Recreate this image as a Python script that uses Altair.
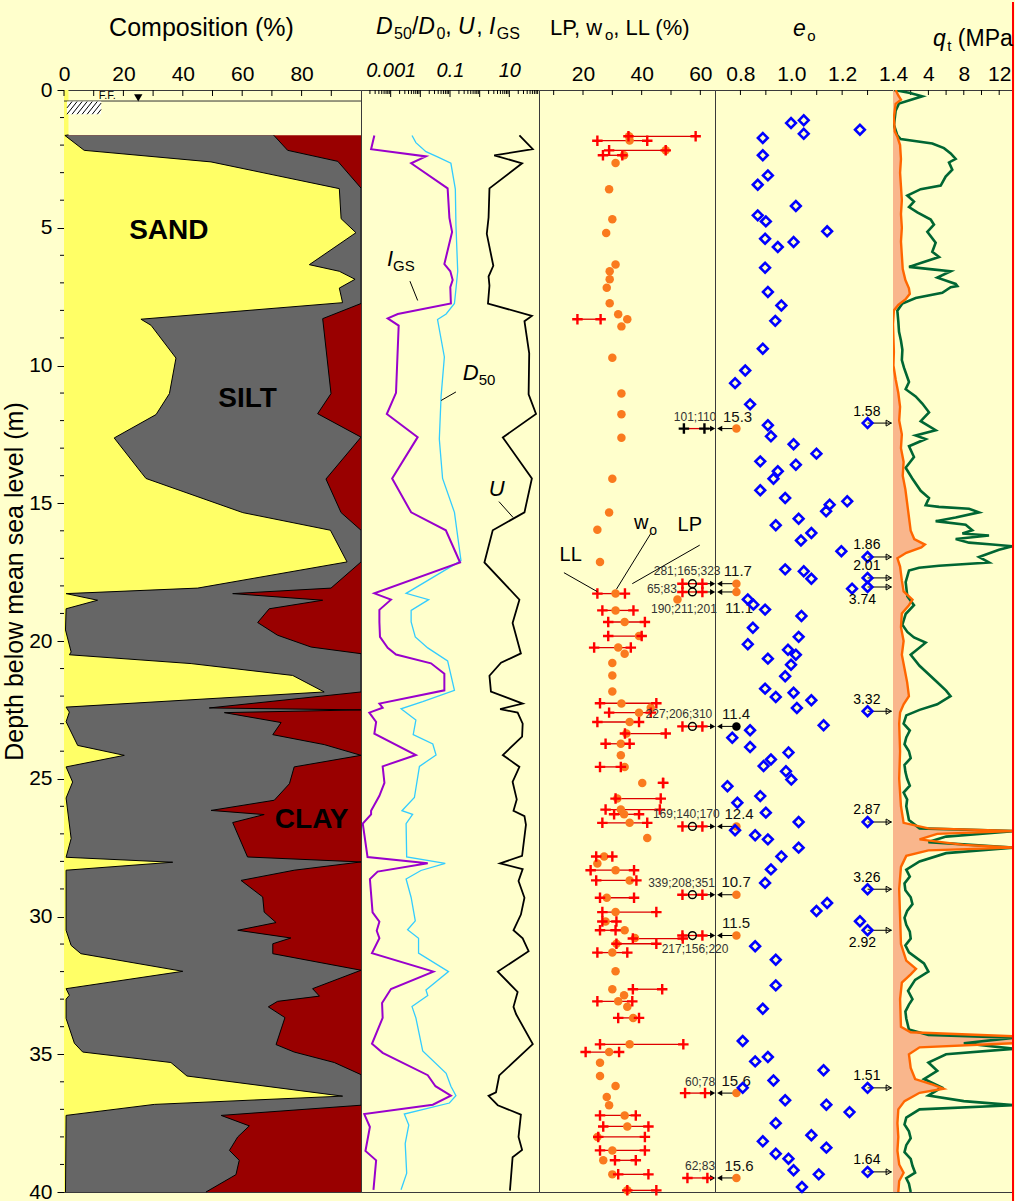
import altair as alt
import numpy as np
import pandas as pd

FONT = "Liberation Sans"
BG = "#FFFFCC"
H = 1102
W1, W2, W3, W4, W5 = 297, 178, 176, 178, 120

SAND_COL, SILT_COL, CLAY_COL = "#FFFF66", "#666666", "#990000"
ORANGE = "#FA7A1E"

# ---------------- Composition (%) ----------------
SAND_DEPTH = [0.0, 1.63, 1.65, 2.19, 2.61, 3.58, 4.67, 5.18, 6.34, 6.58, 6.87, 7.19, 7.72, 8.32, 8.54,
              9.73, 11.02, 11.78, 12.63, 13.87, 14.10, 15.34, 15.98, 17.13, 18.08, 18.28, 18.52, 18.83,
              19.60, 20.40, 20.50, 20.82, 21.25, 21.85, 22.40, 22.58, 22.93, 23.79, 24.15, 24.57, 25.12,
              25.70, 27.17, 27.85, 28.03, 28.32, 30.50, 31.05, 31.35, 31.99, 32.62, 32.86, 33.00, 33.70,
              34.60, 34.92, 35.30, 35.79, 36.52, 36.82, 37.22, 40.00]
SAND_PCT = [1.5, 1.5, 0.3, 6.8, 49.5, 92.7, 93.3, 98.3, 82.6, 92.7, 98.0, 92.7, 93.8, 25.9, 29.3,
            37.7, 35.5, 31.0, 16.9, 25.9, 27.6, 60.2, 89.7, 95.3, 45.0, 0.7, 11.3, 0.7,
            0.5, 2.4, 1.8, 42.8, 77.0, 87.6, 0.7, 1.8, 0.7, 4.6, 20.3, 0.7, 2.9,
            0.7, 2.4, 0.7, 36.6, 0.7, 0.7, 2.4, 5.7, 40.0, 0.7, 1.8, 0.7, 0.7,
            3.5, 6.3, 36.0, 41.4, 93.8, 30.4, 0.7, 0.5]
FINE_DEPTH = [1.64, 2.19, 2.59, 3.56, 7.75, 8.30, 11.02, 11.75, 12.60, 14.12, 15.34, 15.98, 17.13, 18.08,
              18.28, 18.52, 18.83, 19.33, 19.79, 20.22, 20.46, 21.85, 22.43, 22.50, 22.60, 22.96, 23.40,
              23.76, 24.15, 24.57, 25.18, 25.78, 26.15, 26.30, 26.59, 27.84, 28.02, 28.32, 28.69, 29.29,
              29.84, 30.22, 30.50, 30.78, 30.99, 31.35, 31.95, 32.62, 32.89, 33.08, 33.28, 33.67, 34.65,
              34.92, 35.30, 35.74, 36.85, 37.22, 37.60, 38.00, 38.49, 38.85, 39.37, 40.00]
SAND_SILT_PCT = [70.6, 75.3, 92.2, 100, 100, 87.1, 89.9, 85.4, 100, 88.2, 93.3, 100, 100, 89.9,
                 56.8, 87.1, 69.1, 65.2, 71.9, 83.2, 100, 100, 48.9, 100, 54.0, 73.1, 70.3,
                 87.6, 100, 77.5, 75.9, 70.8, 49.5, 67.4, 56.8, 61.8, 100, 77.5, 59.6, 66.9,
                 67.4, 71.4, 58.5, 76.4, 70.3, 70.3, 100, 83.7, 86.0, 71.9, 68.8, 74.4, 71.4,
                 77.5, 91.0, 100, 100, 52.9, 62.4, 58.5, 55.7, 59.0, 57.9, 47.8]
COMP_TOP, COMP_BOTTOM = 1.64, 40.0
SOIL_NAMES = ["SAND", "SILT", "CLAY"]
SOIL_LABEL_X = [35.3, 61.8, 83.4]
SOIL_LABEL_D = [5.10, 11.20, 26.50]
GROUND_D = 0.40
WATER_X, WATER_D = 25.0, 0.29

# ---------------- D50/D0, U, IGS (log10 values) ----------------
IGS_DEPTH = [1.65, 2.15, 2.41, 2.66, 3.57, 4.64, 5.15, 6.32, 6.58, 6.9, 7.16, 7.75, 8.13, 8.29, 8.55,
             10.99, 11.76, 12.6, 14.1, 15.33, 15.98, 17.15, 18.27, 18.5, 18.87, 19.31, 19.85, 20.25,
             20.49, 20.81, 21.19, 21.79, 22.27, 22.42, 22.6, 22.94, 23.36, 24.14, 24.55, 25.15, 25.62,
             26.16, 26.29, 26.63, 27.84, 28.07, 28.37, 28.64, 29.85, 30.19, 30.52, 30.79, 31.33, 32.0,
             32.63, 33.14, 33.68, 34.62, 34.95, 35.76, 36.16, 36.5, 36.83, 37.17, 37.64, 38.51, 38.85, 39.92]
IGS_LOG10 = [-3.55, -3.66, -1.81, -2.31, -1.08, -1.02, -0.93, -1.19, -0.99, -0.91, -0.99, -0.97, -2.76, -3.10, -2.73,
             -2.82, -3.13, -2.09, -2.95, -2.31, -1.14, -0.66, -3.55, -2.99, -3.38, -3.38, -3.36, -3.10,
             -2.82, -1.64, -1.19, -1.19, -3.38, -3.27, -3.72, -3.49, -3.55, -2.15, -3.27, -3.21, -3.38,
             -3.66, -3.66, -3.94, -3.78, -1.75, -3.44, -3.70, -3.61, -3.38, -3.47, -3.38, -3.63, -1.56,
             -2.99, -3.29, -3.27, -3.63, -3.27, -1.75, -1.49, -0.97, -1.58, -3.89, -3.70, -3.85, -3.49, -3.58]
D50_DEPTH = [1.65, 1.91, 2.24, 2.43, 2.66, 3.6, 4.89, 6.58, 7.23, 7.75, 8.13, 8.33, 9.69, 11.11, 12.67,
             14.1, 15.33, 17.08, 18.27, 18.5, 18.89, 19.31, 19.85, 20.25, 20.72, 21.79, 22.2, 22.46, 22.87,
             23.4, 23.74, 24.14, 24.55, 25.68, 26.16, 26.29, 26.63, 27.84, 28.07, 28.33, 28.64, 29.31,
             30.16, 30.48, 30.79, 31.33, 32.0, 32.67, 32.87, 33.27, 33.68, 34.88, 35.69, 36.16, 36.5,
             36.77, 37.17, 37.57, 38.24, 39.32, 39.92]
D50_LOG10 = [-2.28, -2.15, -1.81, -1.42, -0.97, -0.82, -0.80, -0.74, -0.80, -0.85, -1.13, -1.42, -1.19, -1.30, -1.36,
             -1.25, -0.85, -0.63, -2.48, -1.72, -2.31, -2.31, -2.17, -1.75, -1.08, -0.85, -1.92, -2.65, -2.15,
             -2.24, -1.58, -1.47, -2.03, -2.20, -2.62, -2.26, -2.48, -2.46, -1.16, -1.98, -2.48, -2.31,
             -2.17, -2.43, -2.06, -2.06, -1.05, -1.81, -1.75, -2.28, -2.15, -1.92, -1.13, -0.97, -0.80,
             -1.02, -2.54, -2.39, -2.51, -2.46, -2.65]
U_DEPTH = [1.65, 2.15, 2.37, 2.66, 3.57, 4.63, 5.22, 6.38, 6.77, 7.1, 7.75, 8.2, 8.39, 9.56, 11.05,
           11.76, 12.61, 14.1, 15.33, 15.98, 17.15, 18.5, 19.35, 20.45, 20.79, 21.26, 21.84, 22.27, 22.47,
           22.6, 23.0, 23.47, 24.14, 24.57, 25.11, 25.75, 26.16, 26.36, 26.67, 27.8, 28.07, 28.28, 28.71,
           29.32, 29.93, 30.5, 30.79, 31.26, 32.0, 32.74, 33.28, 33.55, 34.63, 35.77, 36.38, 36.51, 36.85,
           37.19, 38.0, 38.47, 38.74, 39.95]
U_LOG10 = [1.34, 1.79, 0.49, 1.43, 0.33, 0.30, 0.24, 0.46, 0.30, 0.33, 0.28, 1.76, 1.51, 1.67, 1.65,
           1.90, 0.78, 1.76, 1.51, 0.44, 0.16, 1.34, 1.11, 1.39, 0.72, 0.33, 0.38, 1.45, 0.69,
           1.28, 1.45, 1.43, 0.78, 1.34, 1.11, 1.25, 1.14, 1.51, 1.56, 1.43, 0.69, 1.45, 1.31,
           1.51, 1.39, 1.14, 1.45, 1.65, 0.61, 1.28, 1.14, 1.23, 1.79, 0.66, 0.55, 0.30, 0.61,
           1.39, 1.31, 1.43, 1.11, 1.02]

# ---------------- LP, wo, LL (%) ----------------
W0_DEPTH = [1.68, 1.83, 2.19, 2.37, 2.65, 3.60, 4.69, 5.19, 6.33, 6.58, 6.87, 7.18, 7.74, 8.14, 8.32, 8.58,
            9.72, 11.02, 11.77, 12.62, 14.11, 15.34, 15.96, 17.13, 18.28, 18.49, 18.89, 19.31, 19.82, 20.24,
            20.46, 20.80, 21.25, 21.83, 22.27, 22.42, 22.60, 22.94, 23.36, 23.73, 24.15, 24.57, 25.15, 25.72,
            26.12, 26.29, 26.60, 27.15, 27.82, 28.08, 28.32, 28.69, 29.32, 29.84, 30.18, 30.50, 30.78, 30.99,
            31.31, 31.99, 32.64, 32.86, 33.08, 33.28, 33.68, 34.64, 34.92, 35.31, 35.79, 36.15, 36.55, 36.85,
            37.22, 37.62, 38.00, 38.49, 38.85, 39.36, 39.94]
W0 = [35.7, 35.9, 48.2, 34.0, 31.1, 28.9, 30.0, 27.9, 31.1, 29.1, 29.1, 28.1, 29.1, 32.0, 35.1, 33.1,
      30.0, 33.1, 33.1, 33.1, 30.0, 28.9, 24.9, 25.8, 31.1, 52.2, 31.1, 34.2, 39.1, 32.0,
      34.2, 30.0, 30.0, 30.0, 33.1, 43.1, 39.1, 35.9, 34.8, 32.9, 32.9, 34.2, 40.2, 31.7,
      32.9, 34.0, 35.9, 41.9, 27.2, 24.9, 31.1, 35.9, 28.1, 31.1, 27.7, 34.2, 37.7, 31.4,
      30.0, 31.1, 30.0, 34.0, 32.0, 35.1, 37.1, 35.9, 28.9, 25.8, 25.8, 31.1, 28.1, 28.9,
      34.2, 35.1, 24.9, 30.0, 26.9, 30.0, 35.1]
ATT_DEPTH = [1.68, 1.84, 2.19, 2.37, 8.32, 18.28, 18.89, 19.31, 19.82, 20.24, 22.26, 22.60, 22.94, 23.36,
             23.73, 24.57, 25.15, 25.72, 26.12, 26.29, 26.60, 27.82, 28.32, 28.69, 29.32, 29.84, 30.18,
             30.50, 30.80, 30.99, 31.31, 32.64, 33.08, 33.68, 34.64, 34.92, 37.22, 37.62, 38.00, 38.49,
             38.85, 39.36, 39.94]
LL_LEFT = [35.5, 24.9, 28.9, 26.8, 18.1, 24.9, 26.6, 28.6, 28.6, 23.8, 25.8, 28.9, 24.9, 34.3,
           27.7, 25.8, 47.3, 31.1, 27.7, 30.6, 26.6, 24.5, 22.6, 24.5, 25.8, 26.6, 26.6,
           25.8, 37.0, 31.4, 24.9, 37.0, 24.9, 32.0, 25.8, 20.9, 25.8, 26.9, 25.2, 25.8,
           30.9, 32.0, 35.1]
LP_RIGHT = [58.4, 41.9, 48.2, 33.4, 26.0, 34.3, 37.2, 41.1, 40.0, 36.3, 45.0, 43.1, 39.1, 48.2,
            35.9, 32.9, 47.3, 46.5, 46.2, 39.1, 41.9, 30.0, 37.4, 38.2, 37.4, 45.0, 31.4,
            31.1, 54.0, 45.0, 35.1, 47.0, 36.8, 39.1, 54.2, 32.3, 38.0, 42.3, 41.1, 41.1,
            38.0, 42.3, 45.0]
# off-scale rows (values written as text)
ANN_DEPTH = [12.29, 17.92, 18.22, 23.10, 26.73, 29.21, 30.69, 36.41, 39.49]
ANN_LEFT = [54.4, 53.9, 53.9, 53.9, 53.9, 53.9, 53.9, 54.8, 55.6]
ANN_MID = [None, 57.3, 57.3, 57.3, 57.3, 57.3, 57.3, None, None]
ANN_RIGHT = [61.4, 60.7, 60.7, 60.7, 60.7, 60.7, 60.7, 61.6, 62.4]
ANN_PLUS_COLOR = ["black", "red", "red", "red", "red", "red", "red", "red", "red"]
ANN_DOT_COLOR = [ORANGE, ORANGE, ORANGE, "black", ORANGE, ORANGE, ORANGE, ORANGE, ORANGE]
ANN_DOT_X = 72.3
ANN_TEXT = ["101;110", "15.3", "281;165;323", "11.7", "65;83", "190;211;201", "11.1", "227;206;310", "11.4",
            "169;140;170", "12.4", "339;208;351", "10.7", "11.5", "217;156;220", "60;78", "15.6", "62;83", "15.6"]
ANN_TEXT_X = [58.2, 72.7, 55.5, 72.8, 46.9, 54.4, 73.2, 52.7, 72.2, 55.2, 73.2, 53.6, 72.2, 72.2, 58.2,
              59.9, 72.2, 59.9, 73.2]
ANN_TEXT_D = [11.87, 11.87, 17.46, 17.46, 18.12, 18.83, 18.79, 22.66, 22.66, 26.29, 26.29, 28.77, 28.75,
              30.22, 31.19, 36.01, 35.98, 39.07, 39.07]

# ---------------- eo ----------------
E0_DEPTH = [1.10, 1.20, 1.44, 1.59, 1.74, 2.37, 3.10, 3.44, 4.21, 4.55, 4.77, 5.13, 5.40, 5.52, 5.70,
            6.45, 7.33, 7.82, 8.38, 9.39, 10.18, 10.64, 11.41, 12.17, 12.57, 12.86, 13.20, 13.48, 13.60,
            13.84, 14.11, 14.53, 14.81, 14.93, 15.05, 15.29, 15.56, 15.80, 16.08, 16.35, 16.74, 17.40,
            17.47, 17.74, 18.10, 18.49, 18.68, 18.86, 19.09, 19.52, 19.85, 20.12, 20.32, 20.50, 20.64,
            20.86, 21.28, 21.73, 21.88, 22.03, 22.15, 22.43, 23.06, 23.24, 23.51, 23.85, 24.05, 24.30,
            24.54, 24.73, 25.03, 25.27, 25.63, 25.87, 26.23, 26.57, 26.87, 27.05, 27.20, 27.50, 27.82,
            28.29, 28.78, 29.51, 29.80, 30.17, 31.08, 31.57, 32.50, 33.35, 34.52, 35.10, 35.26, 35.58,
            35.95, 36.22, 36.67, 36.83, 37.10, 37.50, 37.94, 38.16, 38.39, 38.61, 38.79, 39.21, 39.36, 39.82]
E0 = [1.049, 0.999, 1.27, 1.049, 0.888, 0.888, 0.908, 0.868, 1.018, 0.868, 0.90, 1.141, 0.897, 1.009, 0.947,
      0.897, 0.908, 0.961, 0.937, 0.888, 0.819, 0.779, 0.838, 0.908, 0.92, 1.009, 1.099, 0.878, 1.018,
      0.947, 0.93, 0.878, 0.976, 1.22, 1.151, 1.137, 1.029, 0.939, 1.079, 1.038, 1.197, 0.976,
      1.049, 1.079, 1.239, 0.829, 0.851, 0.897, 1.04, 0.849, 1.029, 0.829, 0.987, 1.018, 0.908,
      0.999, 0.976, 0.897, 1.009, 0.939, 1.079, 1.022, 1.127, 0.838, 0.768, 0.838, 0.989, 0.92,
      0.891, 0.979, 1.0, 0.749, 0.878, 0.788, 0.90, 1.029, 0.779, 0.858, 0.908, 1.029, 0.961,
      0.92, 0.897, 1.141, 1.099, 1.27, 0.858, 0.939, 0.939, 0.888, 0.809, 0.908, 0.858, 1.127,
      0.93, 0.809, 0.976, 1.138, 1.229, 0.939, 1.079, 0.888, 1.138, 0.939, 0.989, 1.009, 1.108, 1.042]
E0_OFF_DEPTH = [12.09, 16.95, 17.71, 18.04, 22.55, 26.57, 29.01, 30.50, 36.22, 39.27]
E0_OFF_TEXT = ["1.58", "1.86", "2.01", "3.74", "3.32", "2.87", "3.26", "2.92", "1.51", "1.64"]
E0_OFF_BELOW = [False, False, False, True, False, False, False, True, False, False]
E0_OFF_MARK = 1.30

# ---------------- qt (MPa) ----------------
QT_DEPTH = [0.0, 0.10, 0.23, 0.49, 0.75, 1.27, 1.65, 1.78, 1.94, 2.11, 2.30, 2.50, 2.63, 2.89, 3.14,
            3.47, 3.60, 3.83, 4.05, 4.25, 4.44, 4.70, 4.89, 5.15, 5.54, 5.87, 6.06, 6.26, 6.42, 6.51,
            6.58, 6.81, 7.04, 7.12, 7.16, 7.36, 7.55, 7.75, 8.01, 8.40, 8.78, 9.10, 9.43, 9.80, 10.08,
            10.60, 10.86, 11.12, 11.38, 11.70, 12.02, 12.35, 12.54, 12.67, 12.93, 13.32, 13.71, 14.10, 14.55,
            14.81, 15.07, 15.13, 15.20, 15.33, 15.52, 15.65, 15.78, 15.98, 16.10, 16.17, 16.30, 16.43, 16.50,
            16.56, 16.69, 16.95, 17.15, 17.27, 17.34, 17.44, 17.86, 18.38, 18.70, 19.02, 19.41, 19.67, 19.87,
            20.06, 20.5, 20.9, 21.2, 21.5, 21.8, 22.0, 22.3, 22.5, 22.7, 23.0, 23.5, 24.0, 24.5, 25.0, 25.5,
            26.0, 26.5, 26.8, 26.9, 27.1, 27.3, 27.5, 27.7, 28.0, 28.3, 28.8, 29.3, 29.8, 30.3, 30.8, 31.3,
            31.7, 32.0, 32.3, 32.7, 33.2, 33.7, 34.1, 34.3, 34.4, 34.6, 34.8, 35.0, 35.3, 35.6, 35.9, 36.2,
            36.5, 36.7, 36.85, 37.0, 37.3, 37.8, 38.3, 38.8, 39.3, 39.7, 40.0,
            23.25, 23.75, 24.25, 24.75, 25.25, 25.75, 28.55, 29.05, 29.55, 30.05, 30.55, 31.05, 33.0,
            33.45, 37.55, 38.05, 38.55, 39.05, 39.5]
QT = [0.11, 1.81, 3.31, 0.68, 0.30, 0.11, 0.49, 0.87, 4.44, 5.76, 6.52, 7.08, 6.33, 6.70, 5.95,
      5.39, 3.13, 1.62, 2.37, 1.81, 2.75, 4.26, 4.63, 3.88, 4.82, 4.44, 5.20, 3.31, 1.81, 4.44,
      6.52, 5.01, 7.08, 7.27, 6.52, 5.57, 2.56, 1.06, 0.49, 0.60, 0.68, 0.90, 1.06, 1.00, 1.24,
      1.81, 1.43, 2.56, 3.31, 4.07, 3.13, 4.82, 2.56, 3.69, 1.81, 2.37, 1.43, 2.18, 3.13,
      4.07, 3.69, 5.20, 8.59, 9.72, 7.08, 4.82, 8.21, 8.96, 7.84, 10.85, 7.08, 8.59, 11.23,
      13.5, 11.98, 9.72, 10.85, 5.20, 2.94, 1.81, 1.43, 1.62, 2.37, 1.43, 1.06, 1.62, 2.37,
      3.69, 2.0, 3.0, 4.0, 5.0, 6.0, 6.5, 5.0, 3.0, 1.5, 1.2, 1.5, 1.8, 1.3, 1.6, 1.2,
      1.5, 1.8, 3.0, 13.7, 6.0, 4.0, 13.7, 6.0, 3.0, 1.5, 1.3, 2.0, 1.6, 1.5, 2.0, 1.8,
      3.5, 4.0, 2.5, 1.7, 1.8, 1.5, 1.8, 4.0, 13.7, 8.0, 13.7, 6.0, 4.0, 5.0, 3.5, 5.5,
      4.0, 8.0, 13.7, 3.0, 1.5, 1.8, 1.5, 2.0, 2.5, 1.8, 2.0,
      1.9, 1.3, 2.0, 1.4, 1.9, 1.6, 1.9, 1.4, 2.2, 1.3, 1.9, 1.4, 2.2,
      1.4, 1.3, 2.0, 1.3, 2.2, 1.5]
U2_DEPTH = [0.0, 0.2, 0.35, 0.5, 1.0, 1.5, 1.7, 2.0, 2.5, 3.0, 3.5, 4.0, 4.5, 5.0, 5.5, 6.0, 6.5, 6.9, 7.2,
            7.4, 7.6, 7.8, 8.0, 8.5, 9.0, 9.5, 10.0, 10.5, 11.0, 11.5, 12.0, 12.5, 13.0, 13.5, 14.0, 14.5,
            15.0, 15.5, 16.0, 16.3, 16.5, 16.6, 16.8, 17.0, 17.3, 17.8, 18.2, 18.5, 18.7, 19.0, 19.5, 20.0,
            20.5, 21.0, 21.5, 22.0, 22.3, 22.6, 23.0, 24.0, 25.0, 26.0, 26.6, 26.8, 26.9, 27.0, 27.2, 27.4,
            27.5, 27.6, 27.8, 28.2, 29.0, 30.0, 31.0, 31.6, 31.9, 32.1, 32.4, 33.0, 34.0, 34.2, 34.35, 34.6,
            34.75, 35.0, 35.5, 35.9, 36.1, 36.25, 36.4, 36.7, 37.0, 37.5, 38.0, 38.5, 39.0, 39.3, 39.6, 40.0]
U2 = [0.3, 0.6, 0.9, 0.3, 0.1, 0.2, 0.5, 0.8, 0.9, 0.8, 0.9, 1.0, 0.9, 1.0, 0.9, 1.0, 1.1, 1.4, 1.8,
      1.9, 1.4, 0.6, 0.1, 0.0, 0.05, 0.1, 0.05, 0.3, 0.6, 0.8, 0.7, 1.0, 0.9, 1.2, 1.1, 1.4,
      1.6, 1.8, 2.0, 2.4, 3.6, 3.2, 1.5, 0.5, 0.8, 1.0, 1.2, 2.2, 1.8, 1.0, 0.9, 1.2,
      1.0, 1.3, 1.6, 1.8, 1.2, 0.8, 0.7, 0.8, 0.7, 0.9, 1.2, 4.0, 13.7, 5.0, 3.0, 8.0,
      13.7, 4.0, 1.5, 0.9, 0.7, 0.8, 0.9, 1.5, 2.6, 2.0, 1.0, 0.8, 0.9, 2.0, 13.7, 13.7,
      3.0, 1.8, 2.0, 2.5, 4.5, 5.7, 3.0, 1.3, 0.6, 0.5, 0.6, 0.5, 0.7, 1.2, 0.7, 0.6]

# ---------------- scales & helpers ----------------
YS = alt.Scale(domain=[0, 40], reverse=True, nice=False, zero=False)
XS1 = alt.Scale(domain=[0, 100], nice=False, zero=False)
XS2 = alt.Scale(type="log", domain=[1e-4, 100], nice=False)
XS3 = alt.Scale(domain=[5, 65], nice=False, zero=False)
XS4 = alt.Scale(domain=[0.7, 1.4], nice=False, zero=False)
XS5 = alt.Scale(domain=[0, 13.56], nice=False, zero=False)
ONE = pd.DataFrame({"k": [0]})

AW = {" ": 278, "(": 333, ")": 333, "%": 889, ",": 278, "/": 278, ".": 278, ";": 278, "D": 722, "G": 778,
      "I": 278, "L": 556, "M": 833, "P": 667, "S": 667, "U": 722, "a": 556, "e": 556, "o": 556, "q": 556,
      "t": 278, "w": 722}


def tw(s, size):
    return sum(AW.get(c, 556) for c in s) * size / 1000.0


def title_layers(pieces, x0, base_y):
    out, x = [], x0
    for text, size, italic, dy in pieces:
        lead = len(text) - len(text.lstrip(" "))
        x += tw(" " * lead, size)
        body = text.strip(" ")
        out.append(alt.Chart(ONE).mark_text(text=body, font=FONT, fontSize=size,
                                            fontStyle="italic" if italic else "normal",
                                            align="left", baseline="alphabetic", color="black")
                   .encode(x=alt.value(x), y=alt.value(base_y + dy)))
        x += tw(text.lstrip(" "), size) + (1.5 if italic else 0)
    return out


def top_axis(values, pad, fmt=None, italic=False, size=21):
    kw = dict(orient="top", values=values, ticks=False, tickSize=0, domain=False, grid=False,
              labelFontSize=size, labelFont=FONT, labelPadding=pad, labelBaseline="alphabetic",
              title=None, labelColor="black", labelFlush=False, labelOverlap=False)
    if fmt:
        kw["format"] = fmt
    if italic:
        kw["labelFontStyle"] = "italic"
    return alt.Axis(**kw)


# one axis object per panel, repeated in every layer of that panel so that layers merge cleanly
AX1 = top_axis([0, 20, 40, 60, 80], pad=10)
AX2 = top_axis([0.001, 0.1, 10], pad=14, fmt="~g", italic=True, size=20)
AX3 = top_axis([20, 40, 60], pad=10)
AX4 = top_axis([0.8, 1.0, 1.2, 1.4], pad=10, fmt=".1f")
AX5 = top_axis([4, 8, 12], pad=10)
YAX1 = alt.Axis(values=list(range(0, 41, 5)), tickSize=7, tickColor="black", labelFontSize=21,
                labelPadding=5, labelColor="black", domain=False, grid=False, labelFlush=False,
                title="Depth below mean sea level (m)", titleFontSize=25, titleFontWeight="normal",
                titleColor="black", titleX=-50, titleY=491, titleAngle=270, titleAlign="center",
                titleBaseline="middle")


def mkx(scale, axis):
    return lambda f: alt.X(f"{f}:Q", scale=scale, axis=axis)


def mky(axis):
    return lambda f="d": alt.Y(f"{f}:Q", scale=YS, axis=axis)


def tick_layer(values, xf, length):
    return alt.Chart(pd.DataFrame({"t": values})).mark_rule(color="black", strokeWidth=1).encode(
        x=xf("t"), y=alt.value(0), y2=alt.value(length))


# ---------------- Panel 1: composition ----------------
X1 = mkx(XS1, AX1)
Y1 = mky(YAX1)
clay = alt.Chart(pd.DataFrame({"top": [COMP_TOP], "bot": [COMP_BOTTOM], "x0": [0], "x1": [100]})).mark_rect(
    color=CLAY_COL).encode(x=X1("x0"), x2="x1:Q", y=Y1("top"), y2="bot:Q")
df_b2 = pd.DataFrame({"d": FINE_DEPTH, "v": SAND_SILT_PCT})
df_b1 = pd.DataFrame({"d": SAND_DEPTH, "v": SAND_PCT})
silt = alt.Chart(df_b2).mark_area(orient="horizontal", color=SILT_COL).encode(
    x=alt.X("v:Q", scale=XS1, axis=AX1, stack=None), y=Y1())
sand = alt.Chart(df_b1).mark_area(orient="horizontal", color=SAND_COL).encode(
    x=alt.X("v:Q", scale=XS1, axis=AX1, stack=None), y=Y1())
b2_line = alt.Chart(df_b2).mark_line(color="black", strokeWidth=1).encode(x=X1("v"), y=Y1(), order="d:Q")
b1_line = alt.Chart(df_b1[df_b1.d > 1.6]).mark_line(color="black", strokeWidth=1).encode(
    x=X1("v"), y=Y1(), order="d:Q")
soil_txt = alt.Chart(pd.DataFrame({"x": SOIL_LABEL_X, "d": SOIL_LABEL_D, "t": SOIL_NAMES})).mark_text(
    font=FONT, fontSize=28, fontWeight="bold", color="black", baseline="middle").encode(
    x=X1("x"), y=Y1(), text="t:N")
ground = alt.Chart(pd.DataFrame({"d": [GROUND_D], "a": [0], "b": [100]})).mark_rule(
    color="#333333", strokeWidth=1).encode(x=X1("a"), x2="b:Q", y=Y1())
HX0, HX1, HD0, HD1, SLANT = 1.0, 12.5, 0.42, 0.88, 3.4
hatch_box = alt.Chart(pd.DataFrame({"a": [HX0], "b": [HX1], "t": [HD0], "u": [HD1]})).mark_rect(
    fill="white").encode(x=X1("a"), x2="b:Q", y=Y1("t"), y2="u:Q")
hrows = []
for s in np.arange(HX0 - SLANT, HX1, 1.7):
    t0 = max(0.0, (HX0 - s) / SLANT)
    t1 = min(1.0, (HX1 - s) / SLANT)
    if t1 <= t0:
        continue
    hrows.append({"x1": s + SLANT * t0, "d1": HD1 - (HD1 - HD0) * t0,
                  "x2": s + SLANT * t1, "d2": HD1 - (HD1 - HD0) * t1})
hatch = alt.Chart(pd.DataFrame(hrows)).mark_rule(color="black", strokeWidth=1).encode(
    x=X1("x1"), x2="x2:Q", y=Y1("d1"), y2="d2:Q")
ff_txt = alt.Chart(pd.DataFrame({"x": [14.6], "d": [0.2], "t": ["F.F."]})).mark_text(
    font=FONT, fontSize=11, color="black", baseline="middle").encode(x=X1("x"), y=Y1(), text="t:N")
water = alt.Chart(pd.DataFrame({"x": [WATER_X], "d": [WATER_D]})).mark_point(
    shape="triangle-down", filled=True, color="black", size=70, opacity=1).encode(x=X1("x"), y=Y1())
minor_y = alt.Chart(pd.DataFrame({"d": [v for v in range(41) if v % 5]})).mark_rule(
    color="black", strokeWidth=1).encode(x=alt.value(0), x2=alt.value(-4), y=Y1())
p1 = alt.layer(
    clay, silt, sand, b2_line, b1_line, soil_txt, ground, hatch_box, hatch, ff_txt, water, minor_y,
    tick_layer(list(range(0, 100, 10)), X1, 6),
    *title_layers([("Composition (%)", 25, False, 0)], 141 - tw("Composition (%)", 25) / 2, -54),
).properties(width=W1, height=H)

# ---------------- Panel 2: D50/D0, U, IGS ----------------
X2 = mkx(XS2, AX2)
Yn = mky(None)


def logdf(depth, lg):
    return pd.DataFrame({"d": depth, "v": 10 ** np.array(lg)})


major2 = [1e-3, 1e-2, 1e-1, 1, 10]
minor2 = [k * 10.0 ** e for e in range(-4, 2) for k in range(2, 10)]


def line2(df, col, w):
    return alt.Chart(df).mark_line(color=col, strokeWidth=w).encode(x=X2("v"), y=Yn(), order="d:Q")


lab2 = pd.DataFrame({"x": 10 ** np.array([-3.12, -2.92, -0.57, -0.03, 0.31]),
                     "d": [6.40, 6.58, 10.53, 10.72, 14.74],
                     "t": ["I", "GS", "D", "50", "U"],
                     "big": [True, False, True, False, True]})
lead2 = pd.DataFrame({"x1": 10 ** np.array([-2.35, -0.80, 0.65]), "x2": 10 ** np.array([-2.09, -1.30, 1.13]),
                      "d1": [6.94, 10.96, 14.94], "d2": [7.64, 11.27, 15.52]})
p2 = alt.layer(
    tick_layer(major2, X2, 7),
    tick_layer(minor2, X2, 4),
    line2(logdf(D50_DEPTH, D50_LOG10), "#33CCFF", 1.3),
    line2(logdf(IGS_DEPTH, IGS_LOG10), "#9900CC", 2),
    line2(logdf(U_DEPTH, U_LOG10), "black", 1.8),
    alt.Chart(lab2[lab2.big]).mark_text(font=FONT, fontSize=22, fontStyle="italic", align="left",
                                        baseline="alphabetic", color="black").encode(
        x=X2("x"), y=Yn(), text="t:N"),
    alt.Chart(lab2[~lab2.big]).mark_text(font=FONT, fontSize=15, align="left",
                                         baseline="alphabetic", color="black").encode(
        x=X2("x"), y=Yn(), text="t:N"),
    alt.Chart(lead2).mark_rule(color="black", strokeWidth=1).encode(
        x=X2("x1"), x2="x2:Q", y=Yn("d1"), y2="d2:Q"),
    *title_layers([("D", 23, True, 0), ("50", 16, False, 5), ("/", 23, False, 0), ("D", 23, True, 0),
                   ("0", 16, False, 5), (", ", 23, False, 0), ("U", 23, True, 0), (", ", 23, False, 0),
                   ("I", 23, True, 0), ("GS", 16, False, 5)], 15, -56),
).properties(width=W2, height=H)

# ---------------- Panel 3: LP, wo, LL ----------------
X3 = mkx(XS3, AX3)
PLUS = "M-1,0L1,0M0,-1L0,1"
df_att = pd.DataFrame({"d": ATT_DEPTH, "a": LL_LEFT, "b": LP_RIGHT})
df_plus = pd.DataFrame({"d": ATT_DEPTH * 2, "v": LL_LEFT + LP_RIGHT})
df_w0 = pd.DataFrame({"d": W0_DEPTH, "v": W0})
df_ann = pd.DataFrame({"d": ANN_DEPTH, "a": ANN_LEFT, "m": ANN_MID, "b": ANN_RIGHT,
                       "pc": ANN_PLUS_COLOR, "dc": ANN_DOT_COLOR})
df_ann["dot"] = ANN_DOT_X
df_ann["ra0"] = df_ann["b"]
df_ann["ra1"] = 64.2
df_ann["la1"] = 66.6
df_ann_plus = pd.concat([df_ann[["d", "a", "pc"]].rename(columns={"a": "v"}),
                         df_ann[["d", "b", "pc"]].rename(columns={"b": "v"})])
df_ann_txt = pd.DataFrame({"x": ANN_TEXT_X, "d": ANN_TEXT_D, "t": ANN_TEXT})
df_ann_txt["small"] = df_ann_txt.t.str.contains(";")
lab3 = pd.DataFrame({"x": [15.8, 56.4], "d": [16.89, 15.78], "t": ["LL", "LP"]})
lead3 = pd.DataFrame({"x1": [13.5, 43.1, 59.8], "x2": [24.9, 31.4, 36.8],
                      "d1": [17.52, 16.10, 16.52], "d2": [18.21, 18.12, 17.92]})
p3 = alt.layer(
    tick_layer(list(range(10, 65, 10)), X3, 5),
    alt.Chart(df_att).mark_rule(color="#DD0000", strokeWidth=1.3).encode(x=X3("a"), x2="b:Q", y=Yn()),
    alt.Chart(df_w0).mark_circle(color=ORANGE, size=72, opacity=1).encode(x=X3("v"), y=Yn()),
    alt.Chart(df_plus).mark_point(shape=PLUS, filled=False, color="#FF0000", strokeWidth=2.4, size=110,
                                  opacity=1).encode(x=X3("v"), y=Yn()),
    # off-scale rows
    alt.Chart(df_ann).mark_rule(color="#DD0000", strokeWidth=1.3, clip=False).encode(x=X3("a"), x2="b:Q", y=Yn()),
    alt.Chart(df_ann).mark_rule(color="black", strokeWidth=1, clip=False).encode(x=X3("ra0"), x2="ra1:Q", y=Yn()),
    alt.Chart(df_ann).mark_rule(color="black", strokeWidth=1, clip=False).encode(x=X3("dot"), x2="la1:Q", y=Yn()),
    alt.Chart(df_ann).mark_point(shape="triangle-right", filled=True, color="black", size=35, opacity=1,
                                 clip=False).encode(x=X3("ra1"), y=Yn()),
    alt.Chart(df_ann).mark_point(shape="triangle-left", filled=True, color="black", size=35, opacity=1,
                                 clip=False).encode(x=X3("la1"), y=Yn()),
    alt.Chart(df_ann_plus).mark_point(shape=PLUS, filled=False, strokeWidth=2.4, size=110, opacity=1,
                                      clip=False).encode(x=X3("v"), y=Yn(),
                                                         stroke=alt.Stroke("pc:N", scale=None)),
    alt.Chart(df_ann.dropna(subset=["m"])).mark_point(shape="circle", filled=False, color="black",
                                                      strokeWidth=1.5, size=60, opacity=1, clip=False).encode(
        x=X3("m"), y=Yn()),
    alt.Chart(df_ann).mark_circle(size=72, opacity=1, clip=False).encode(
        x=X3("dot"), y=Yn(), color=alt.Color("dc:N", scale=None)),
    alt.Chart(df_ann_txt[df_ann_txt.small]).mark_text(font=FONT, fontSize=12, color="#333333",
                                                      baseline="middle", clip=False).encode(
        x=X3("x"), y=Yn(), text="t:N"),
    alt.Chart(df_ann_txt[~df_ann_txt.small]).mark_text(font=FONT, fontSize=15, color="#111111",
                                                       baseline="middle", clip=False).encode(
        x=X3("x"), y=Yn(), text="t:N"),
    alt.Chart(lead3).mark_rule(color="black", strokeWidth=1).encode(
        x=X3("x1"), x2="x2:Q", y=Yn("d1"), y2="d2:Q"),
    alt.Chart(lab3).mark_text(font=FONT, fontSize=20, color="black", baseline="middle").encode(
        x=X3("x"), y=Yn(), text="t:N"),
    alt.Chart(pd.DataFrame({"x": [37.4], "d": [15.72], "t": ["w"]})).mark_text(
        font=FONT, fontSize=20, color="black", baseline="middle", align="left").encode(x=X3("x"), y=Yn(), text="t:N"),
    alt.Chart(pd.DataFrame({"x": [42.6], "d": [16.02], "t": ["o"]})).mark_text(
        font=FONT, fontSize=14, color="black", baseline="middle", align="left").encode(x=X3("x"), y=Yn(), text="t:N"),
    *title_layers([("LP, w", 22, False, 0), ("o", 15, False, 5), (", LL (%)", 22, False, 0)], 11, -55),
).properties(width=W3, height=H)

# ---------------- Panel 4: eo ----------------
X4 = mkx(XS4, AX4)
df_e0 = pd.DataFrame({"d": E0_DEPTH, "v": E0})
df_off = pd.DataFrame({"d": E0_OFF_DEPTH, "t": E0_OFF_TEXT, "below": E0_OFF_BELOW})
df_off["v"] = E0_OFF_MARK
df_off["end"] = 1.395
df_off["head"] = 1.383
df_off["ld"] = df_off.d + np.where(df_off.below, 0.47, -0.42)
df_off["lx"] = np.where(df_off.below, 1.28, 1.297)
p4 = alt.layer(
    tick_layer([0.8, 0.9, 1.0, 1.1, 1.2, 1.3], X4, 5),
    alt.Chart(df_off).mark_rule(color="black", strokeWidth=1).encode(x=X4("v"), x2="end:Q", y=Yn()),
    alt.Chart(df_off).mark_point(shape="triangle-right", filled=False, color="black", strokeWidth=1,
                                 size=35, opacity=1).encode(x=X4("head"), y=Yn()),
    alt.Chart(df_e0).mark_point(shape="diamond", filled=False, color="#0000FF", strokeWidth=2.6, size=95,
                                opacity=1).encode(x=X4("v"), y=Yn()),
    alt.Chart(df_off).mark_point(shape="diamond", filled=False, color="#0000FF", strokeWidth=2.6, size=95,
                                 opacity=1).encode(x=X4("v"), y=Yn()),
    alt.Chart(df_off).mark_text(font=FONT, fontSize=14, color="black", baseline="middle").encode(
        x=X4("lx"), y=Yn("ld"), text="t:N"),
    *title_layers([("e", 23, True, 0), ("o", 15, False, 5)], 78, -54),
).properties(width=W4, height=H)

# ---------------- Panel 5: qt ----------------
X5 = mkx(XS5, AX5)
df_qt = pd.DataFrame({"d": QT_DEPTH, "v": QT}).sort_values("d")
df_u2 = pd.DataFrame({"d": U2_DEPTH, "v": U2})
p5 = alt.layer(
    tick_layer([2, 4, 6, 8, 10, 12], X5, 5),
    alt.Chart(df_u2).mark_area(orient="horizontal", color="#F9B68C", opacity=1, clip=True).encode(
        x=alt.X("v:Q", scale=XS5, axis=AX5, stack=None), y=Yn()),
    alt.Chart(df_qt).mark_line(color="#006633", strokeWidth=2.6, clip=True).encode(x=X5("v"), y=Yn(), order="d:Q"),
    alt.Chart(df_u2).mark_line(color="#FF6600", strokeWidth=2.4, clip=True).encode(x=X5("v"), y=Yn(), order="d:Q"),
    alt.Chart(ONE).mark_rule(color="#FF0000", strokeWidth=2).encode(
        x=alt.value(W5), y=alt.value(-88), y2=alt.value(H + 11)),
    *title_layers([("q", 23, True, 0), ("t", 15, False, 5), (" (MPa", 23, False, 0)], 40, -44),
).properties(width=W5, height=H)

chart = alt.hconcat(p1, p2, p3, p4, p5, spacing=0, bounds="flush").properties(
    background=BG, padding={"left": 1, "top": 0, "right": 0, "bottom": 0}
).configure(font=FONT).configure_view(stroke="#3a3a3a", strokeWidth=1)

chart.save("out.html", embed_options={"renderer": "svg", "actions": False})
